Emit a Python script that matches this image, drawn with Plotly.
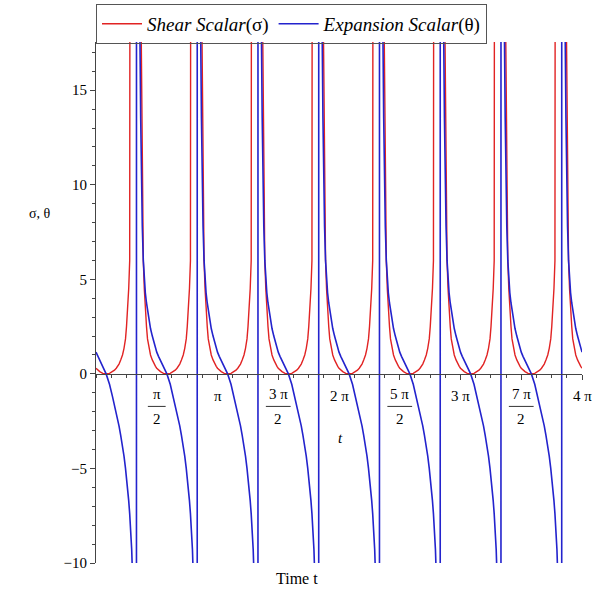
import math
import plotly.graph_objects as go

# ---- data ----
# positions of the singularities (t, radians) where both curves blow up
asymptotes_t = [-0.5236, 1.0472, 2.6180, 4.1888, 5.7596, 7.3304, 8.9012, 10.4720, 12.0428]
# sample positions measured from each singularity (radians), one period (pi/2) long
offsets_t = [0.0052, 0.0388, 0.0646, 0.0905, 0.1086, 0.1241, 0.1500, 0.1758, 0.2017,
             0.2275, 0.2586, 0.2844, 0.3232, 0.3620, 0.4085, 0.4525, 0.4913, 0.5236,
             0.5689, 0.6206, 0.6981, 0.7854,
             0.8727, 0.9502, 1.0019, 1.0472, 1.0795, 1.1183, 1.1623, 1.2088, 1.2476,
             1.2864, 1.3122, 1.3433, 1.3691, 1.3950, 1.4208, 1.4467, 1.4622, 1.4803,
             1.5062, 1.5320, 1.5656]
# shear scalar sigma over one period
sigma_period = [500, 120, 55, 30, 22.5, 17.5, 10.5, 6.0, 4.5,
                3.4, 2.5, 1.85, 1.35, 1.0, 0.74, 0.52, 0.40, 0.30,
                0.20, 0.12, 0.03, 0.0,
                0.03, 0.12, 0.20, 0.30, 0.40, 0.52, 0.74, 1.0, 1.35,
                1.85, 2.5, 3.4, 4.5, 6.0, 10.5, 17.5, 22.5, 30,
                55, 120, 500]
# expansion scalar theta over one period
theta_period = [400, 50, 28, 17.5, 13.5, 10.5, 7.8, 6.0, 5.0,
                4.3, 3.75, 3.35, 2.85, 2.4, 2.0, 1.62, 1.36, 1.15,
                0.93, 0.72, 0.38, 0.0,
                -0.55, -1.2, -1.65, -2.05, -2.35, -2.75, -3.25, -3.8, -4.35,
                -5.0, -5.45, -6.1, -6.7, -7.4, -8.2, -9.3, -10.3, -12,
                -15.5, -25, -300]

T_MAX = 4 * math.pi
x_tick_vals = [math.pi / 2, math.pi, 3 * math.pi / 2, 2 * math.pi,
               5 * math.pi / 2, 3 * math.pi, 7 * math.pi / 2, 4 * math.pi]
tick_numerators = ["π", "π", "3 π", "2 π", "5 π", "3 π", "7 π", "4 π"]
tick_denominators = ["2", "", "2", "", "2", "", "2", ""]

Y_RANGE = [-10, 17.55]

# ---- build series ----
t_all, sig_all, th_all = [], [], []
for a in asymptotes_t:
    for o, s, th in zip(offsets_t, sigma_period, theta_period):
        t = a + o
        if -1e-3 <= t <= T_MAX + 1e-3:
            t_all.append(t)
            sig_all.append(s)
            th_all.append(th)

RED = "rgb(225,35,35)"
BLUE = "rgb(35,35,205)"
SERIF = "Liberation Serif"

fig = go.Figure()
fig.add_trace(go.Scatter(x=t_all, y=sig_all, mode="lines",
                         line=dict(color=RED, width=1.4),
                         name="<i>Shear Scalar</i>(σ)"))
fig.add_trace(go.Scatter(x=t_all, y=th_all, mode="lines",
                         line=dict(color=BLUE, width=1.6),
                         name="<i>Expansion Scalar</i>(θ)"))

zero_pos = (0 - Y_RANGE[0]) / (Y_RANGE[1] - Y_RANGE[0])
AXC = "#444"

fig.update_layout(
    width=595, height=601,
    margin=dict(l=96, r=13, t=42, b=38, autoexpand=False),
    plot_bgcolor="white", paper_bgcolor="white",
    font=dict(family=SERIF, size=15, color="black"),
    showlegend=True,
    legend=dict(orientation="h", x=0.0, y=1.073, xanchor="left", yanchor="top",
                bordercolor="#555", borderwidth=1, font=dict(family=SERIF, size=19),
                bgcolor="rgba(255,255,255,0)", itemwidth=40, tracegroupgap=0),
    xaxis=dict(range=[0, T_MAX], anchor="free", position=zero_pos,
               showline=True, linecolor=AXC, linewidth=1,
               showgrid=False, zeroline=False,
               tickmode="array", tickvals=x_tick_vals, ticks="outside",
               ticklen=5, tickcolor=AXC, showticklabels=False,
               minor=dict(tickmode="linear", tick0=0, dtick=math.pi / 8,
                          ticks="outside", ticklen=3, tickcolor=AXC)),
    yaxis=dict(range=Y_RANGE, showline=True, linecolor=AXC, linewidth=1,
               showgrid=False, zeroline=False,
               tickmode="linear", tick0=0, dtick=5, ticks="outside",
               ticklen=5, tickcolor=AXC,
               tickfont=dict(family=SERIF, size=15),
               minor=dict(tickmode="linear", tick0=0, dtick=1,
                          ticks="outside", ticklen=3, tickcolor=AXC)),
)

annotations = []
shapes = []
for v, num, den in zip(x_tick_vals, tick_numerators, tick_denominators):
    if den:
        annotations.append(dict(x=v, y=-1.05, xref="x", yref="y", text=num,
                                showarrow=False, font=dict(family=SERIF, size=15)))
        annotations.append(dict(x=v, y=-2.4, xref="x", yref="y", text=den,
                                showarrow=False, font=dict(family=SERIF, size=15)))
        half = 0.23 if len(num) == 1 else 0.32
        shapes.append(dict(type="line", xref="x", yref="y", x0=v - half, x1=v + half,
                           y0=-1.72, y1=-1.72, line=dict(color="#333", width=1)))
    else:
        annotations.append(dict(x=v, y=-1.15, xref="x", yref="y", text=num,
                                showarrow=False, font=dict(family=SERIF, size=15)))

annotations.append(dict(x=-0.115, y=8.5, xref="paper", yref="y", text="σ, θ",
                        xanchor="center", yanchor="middle",
                        showarrow=False, font=dict(family=SERIF, size=14)))
annotations.append(dict(x=6.31, y=-3.4, xref="x", yref="y", text="<i>t</i>",
                        showarrow=False, font=dict(family=SERIF, size=15)))
annotations.append(dict(x=0.414, y=-0.029, xref="paper", yref="paper", text="Time t",
                        xanchor="center", yanchor="middle",
                        showarrow=False, font=dict(family=SERIF, size=16)))

fig.update_layout(annotations=annotations, shapes=shapes)

fig.write_html("out.html", config={"displayModeBar": False},
               post_script="document.body.style.margin='0';")
